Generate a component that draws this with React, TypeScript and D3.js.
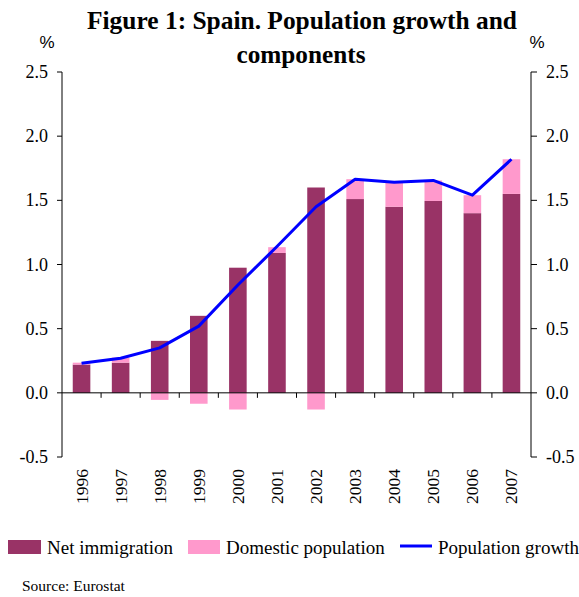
import React from "react";
import * as d3 from "d3";

const years = ["1996","1997","1998","1999","2000","2001","2002","2003","2004","2005","2006","2007"];
const netImmigration = [0.22, 0.235, 0.405, 0.60, 0.975, 1.09, 1.60, 1.51, 1.45, 1.495, 1.40, 1.55];
const domestic = [0.015, 0.04, -0.055, -0.085, -0.13, 0.045, -0.13, 0.155, 0.19, 0.16, 0.14, 0.27];
const populationGrowth = [0.23, 0.27, 0.35, 0.52, 0.84, 1.14, 1.45, 1.665, 1.64, 1.655, 1.54, 1.82];
const yTicks = [-0.5, 0, 0.5, 1.0, 1.5, 2.0, 2.5];

const W = 579, H = 597;
const left = 62, right = 531, top = 72, bottom = 457;
const serif = "Liberation Serif, Times New Roman, Times, serif";
const sans = "Liberation Sans, Arial, sans-serif";

export default function App() {
  const x = d3.scaleBand().domain(years).range([left, right]).paddingInner(0).paddingOuter(0);
  const y = d3.scaleLinear().domain([-0.5, 2.5]).range([bottom, top]);
  const bw = x.bandwidth() * 0.45;
  const cx = (yr: string) => (x(yr) as number) + x.bandwidth() / 2;
  const line = d3.line<number>().x((_, i) => cx(years[i])).y((v) => y(v));

  return (
    <svg width={W} height={H} style={{ position: "absolute", left: 0, top: 0, background: "#fff" }}>
      <text x={302} y={29} textAnchor="middle" fontFamily={serif} fontWeight="bold" fontSize={25}
        textLength={430} lengthAdjust="spacingAndGlyphs">Figure 1: Spain. Population growth and</text>
      <text x={301} y={63} textAnchor="middle" fontFamily={serif} fontWeight="bold" fontSize={25}
        textLength={129} lengthAdjust="spacingAndGlyphs">components</text>

      <text x={47} y={48} textAnchor="middle" fontFamily={sans} fontSize={17}>%</text>
      <text x={537} y={48} textAnchor="middle" fontFamily={sans} fontSize={17}>%</text>

      {years.map((yr, i) => {
        const ni = netImmigration[i];
        const d = domestic[i];
        const bx = cx(yr) - bw / 2;
        return (
          <g key={yr}>
            <rect x={bx} width={bw} y={y(Math.max(ni, 0))} height={Math.abs(y(ni) - y(0))} fill="#993366" />
            {d >= 0 ? (
              <rect x={bx} width={bw} y={y(ni + d)} height={y(ni) - y(ni + d)} fill="#FF99CC" />
            ) : (
              <rect x={bx} width={bw} y={y(0)} height={y(d) - y(0)} fill="#FF99CC" />
            )}
          </g>
        );
      })}

      <line x1={left} x2={left} y1={top} y2={bottom} stroke="#000" strokeWidth={1} />
      <line x1={right} x2={right} y1={top} y2={bottom} stroke="#000" strokeWidth={1} />
      {yTicks.map((t) => (
        <g key={t}>
          <line x1={left - 5} x2={left} y1={y(t)} y2={y(t)} stroke="#000" />
          <line x1={right} x2={right + 6} y1={y(t)} y2={y(t)} stroke="#000" />
          <text x={48} y={y(t) + 6} textAnchor="end" fontFamily={serif} fontSize={18}>{t.toFixed(1)}</text>
          <text x={546} y={y(t) + 6} textAnchor="start" fontFamily={serif} fontSize={18}>{t.toFixed(1)}</text>
        </g>
      ))}

      <line x1={left} x2={right} y1={y(0)} y2={y(0)} stroke="#000" strokeWidth={1} />
      {years.slice(1).map((yr) => (
        <line key={yr} x1={x(yr) as number} x2={x(yr) as number} y1={y(0)} y2={y(0) + 5} stroke="#000" />
      ))}

      <path d={line(populationGrowth) || ""} fill="none" stroke="#0000FF" strokeWidth={3} strokeLinejoin="round" />

      {years.map((yr) => (
        <text key={yr} transform={`translate(${cx(yr) + 6},469) rotate(-90)`} textAnchor="end"
          fontFamily={serif} fontSize={17.5}>{yr}</text>
      ))}

      <rect x={8} y={540} width={33} height={14} fill="#993366" />
      <text x={47} y={554} fontFamily={serif} fontSize={19}>Net immigration</text>
      <rect x={188} y={540} width={32} height={14} fill="#FF99CC" />
      <text x={226} y={554} fontFamily={serif} fontSize={19}>Domestic population</text>
      <line x1={400} x2={432} y1={546} y2={546} stroke="#0000FF" strokeWidth={3} />
      <text x={438} y={554} fontFamily={serif} fontSize={19}>Population growth</text>

      <text x={22} y={591} fontFamily={serif} fontSize={15.5}>Source: Eurostat</text>
    </svg>
  );
}
